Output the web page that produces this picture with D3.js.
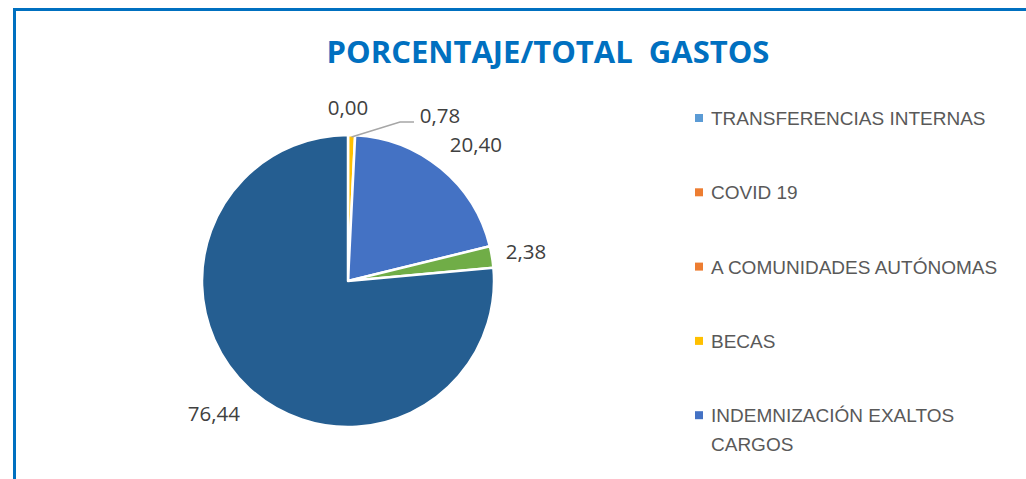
<!DOCTYPE html>
<html>
<head>
<meta charset="utf-8">
<script src="https://cdn.jsdelivr.net/npm/d3@7.9.0/dist/d3.min.js"></script>
<style>
  body { margin: 0; background: #fff; }
  svg { display: block; }
</style>
</head>
<body>
<svg width="1026" height="479"></svg>
<script>
// data
const title = 'PORCENTAJE/TOTAL  GASTOS';
const legendLabels = ['TRANSFERENCIAS INTERNAS', 'COVID 19', 'A COMUNIDADES AUTÓNOMAS', 'BECAS', 'INDEMNIZACIÓN EXALTOS CARGOS'];
const legendColors = ['#5B9BD5', '#ED7D31', '#ED7D31', '#FFC000', '#4472C4'];
const sliceValues = [0.00, 0.78, 20.40, 2.38, 76.44];
const sliceColors = ['#5B9BD5', '#FFC000', '#4472C4', '#70AD47', '#255E91'];

const fmt = v => v.toFixed(2).replace('.', ',');

const svg = d3.select('svg');

// chart frame (blue border)
svg.append('rect')
  .attr('x', 14.5).attr('y', 9.5)
  .attr('width', 1100).attr('height', 600)
  .attr('fill', 'none')
  .attr('stroke', '#0070C0')
  .attr('stroke-width', 3);

svg.append('text')
  .attr('x', 548).attr('y', 63)
  .attr('text-anchor', 'middle')
  .attr('font-family', 'Open Sans, sans-serif')
  .attr('font-weight', 'bold')
  .attr('font-size', 31)
  .attr('fill', '#0070C0')
  .style('white-space', 'pre')
  .text(title);

const cx = 348, cy = 281, r = 146;
const g = svg.append('g').attr('transform', `translate(${cx},${cy})`);

const pie = d3.pie().sort(null).value(d => d);
const arcs = pie(sliceValues);
const arc = d3.arc().innerRadius(0).outerRadius(r);

g.selectAll('path')
  .data(arcs)
  .join('path')
  .attr('d', arc)
  .attr('fill', (d, i) => sliceColors[i])
  .attr('stroke', '#fff')
  .attr('stroke-width', 2.5)
  .attr('stroke-linejoin', 'round');

// labels
const labelFont = 20.5;
const labelOff = 14;
const clamp1 = v => Math.max(-1, Math.min(1, v));
arcs.forEach((d, i) => {
  const a = (d.startAngle + d.endAngle) / 2;
  const t = g.append('text')
    .attr('font-family', 'Open Sans, sans-serif')
    .attr('font-size', labelFont)
    .attr('fill', '#404040')
    .attr('text-anchor', 'middle')
    .attr('dominant-baseline', 'central')
    .text(fmt(sliceValues[i]));
  const bb = t.node().getBBox();
  let x = Math.sin(a) * (r + labelOff) + clamp1(Math.sin(a) * 1.6) * bb.width / 2;
  let y = -Math.cos(a) * (r + labelOff) - clamp1(Math.cos(a) * 1.6) * bb.height / 2;
  if (i === 1) {
    // small slice: label pushed right with a leader line
    const sx = Math.sin(a) * (r - 2), sy = -Math.cos(a) * (r - 2);
    x = 92; y = -166;
    g.append('polyline')
      .attr('points', [[sx, sy], [52, -159], [66, -159]].join(' '))
      .attr('fill', 'none')
      .attr('stroke', '#A6A6A6')
      .attr('stroke-width', 1.5);
  }
  t.attr('x', x).attr('y', y);
});

// legend
const legend = svg.append('g').attr('transform', 'translate(695,118)');
const rowStep = 74.3;
legendLabels.forEach((name, i) => {
  const row = legend.append('g').attr('transform', `translate(0,${i * rowStep})`);
  row.append('rect')
    .attr('x', 0).attr('y', -4)
    .attr('width', 8).attr('height', 8)
    .attr('fill', legendColors[i]);
  const txt = row.append('text')
    .attr('x', 16).attr('y', 0)
    .attr('dominant-baseline', 'central')
    .attr('font-family', 'Liberation Sans, Arial, sans-serif')
    .attr('font-size', 19)
    .attr('fill', '#595959');
  const words = name === 'INDEMNIZACIÓN EXALTOS CARGOS'
    ? ['INDEMNIZACIÓN EXALTOS', 'CARGOS'] : [name];
  words.forEach((w, j) => {
    txt.append('tspan').attr('x', 16).attr('dy', j === 0 ? 0 : 29).text(w);
  });
});
</script>
</body>
</html>
